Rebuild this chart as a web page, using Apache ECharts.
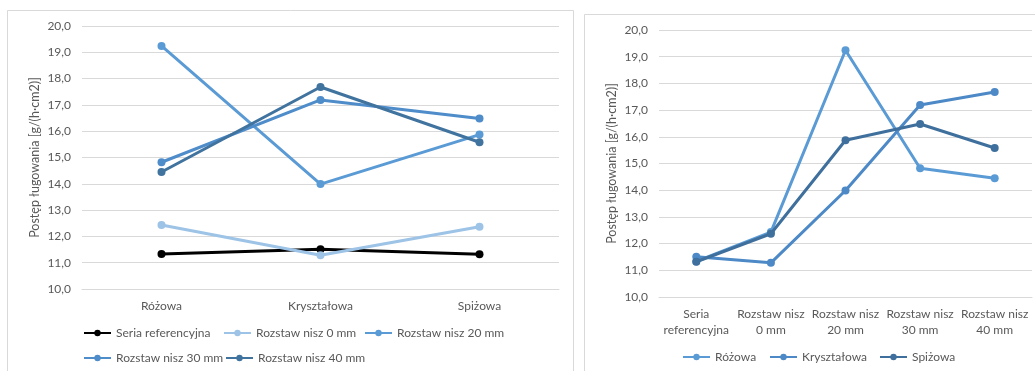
<!DOCTYPE html>
<html>
<head>
<meta charset="utf-8">
<script src="https://cdn.jsdelivr.net/npm/echarts@6/dist/echarts.min.js"></script>
<style>
html,body{margin:0;padding:0;background:#fff;}
#c{width:1035px;height:371px;}
</style>
</head>
<body>
<div id="c"></div>
<script>
// ---- data ----
const categories = ['Różowa', 'Kryształowa', 'Spiżowa'];
const seriesNames = ['Seria referencyjna', 'Rozstaw nisz 0 mm', 'Rozstaw nisz 20 mm', 'Rozstaw nisz 30 mm', 'Rozstaw nisz 40 mm'];
const seriaReferencyjna = [11.33, 11.51, 11.32];
const rozstaw0 = [12.43, 11.28, 12.37];
const rozstaw20 = [19.24, 13.99, 15.87];
const rozstaw30 = [14.82, 17.19, 16.48];
const rozstaw40 = [14.45, 17.68, 15.58];
const yMin = 10, yMax = 20, yStep = 1;
const yAxisTitle = 'Postęp ługowania [g/(h·cm2)]';

const leftValues = [seriaReferencyjna, rozstaw0, rozstaw20, rozstaw30, rozstaw40];
const leftColors = ['#000000', '#9DC3E6', '#5B9BD5', '#4E8CCA', '#41739F'];
const rightColors = ['#5B9BD5', '#4C89C6', '#3F709D'];

const txt = '#595959';
const font = 'Lato';
const fmt = v => v.toFixed(1).replace('.', ',');

function yAxis(idx) {
  return {
    type: 'value', gridIndex: idx, min: yMin, max: yMax, interval: yStep,
    name: yAxisTitle, nameLocation: 'middle', nameGap: 41, nameRotate: 90,
    nameTextStyle: { color: txt, fontFamily: font, fontSize: 12.5 },
    axisLine: { show: false }, axisTick: { show: false },
    axisLabel: { color: txt, fontFamily: font, fontSize: 12, margin: 11, formatter: fmt },
    splitLine: { lineStyle: { color: '#D9D9D9', width: 1 } }
  };
}

const series = [];
leftValues.forEach((vals, i) => {
  series.push({
    name: seriesNames[i], type: 'line', xAxisIndex: 0, yAxisIndex: 0, data: vals,
    symbol: 'circle', symbolSize: 8, lineStyle: { width: 3, color: leftColors[i] },
    itemStyle: { color: leftColors[i] }, z: 2 + i
  });
});
categories.forEach((cat, j) => {
  series.push({
    name: cat, type: 'line', xAxisIndex: 1, yAxisIndex: 1,
    data: leftValues.map(a => a[j]),
    symbol: 'circle', symbolSize: 8, lineStyle: { width: 3, color: rightColors[j] },
    itemStyle: { color: rightColors[j] }, z: 2 + j
  });
});

function legendAt(name, left, top) {
  return {
    data: [name], left: left, top: top, padding: 0, itemWidth: 27, itemHeight: 8,
    textStyle: { color: txt, fontFamily: font, fontSize: 12 }
  };
}
const legends = [
  legendAt(seriesNames[0], 83, 327),
  legendAt(seriesNames[1], 223, 327),
  legendAt(seriesNames[2], 364, 327),
  legendAt(seriesNames[3], 83, 352),
  legendAt(seriesNames[4], 225, 352),
  legendAt(categories[0], 682, 351),
  legendAt(categories[1], 769, 351),
  legendAt(categories[2], 879, 351)
];

const chart = echarts.init(document.getElementById('c'), null, { renderer: 'canvas' });
chart.setOption({
  animation: false,
  backgroundColor: '#fff',
  graphic: [
    { type: 'rect', shape: { x: 7.5, y: 10.5, width: 566, height: 400 }, style: { fill: 'none', stroke: '#D9D9D9', lineWidth: 1 }, silent: true },
    { type: 'rect', shape: { x: 584.5, y: 14.5, width: 500, height: 400 }, style: { fill: 'none', stroke: '#D9D9D9', lineWidth: 1 }, silent: true }
  ],
  grid: [
    { left: 82, top: 26, width: 477, height: 263 },
    { left: 659, top: 30, width: 373, height: 267 }
  ],
  xAxis: [
    {
      type: 'category', gridIndex: 0, data: categories, boundaryGap: true,
      axisLine: { lineStyle: { color: '#D9D9D9' } }, axisTick: { show: false },
      axisLabel: { color: txt, fontFamily: font, fontSize: 12, margin: 11, interval: 0 }
    },
    {
      type: 'category', gridIndex: 1, data: seriesNames, boundaryGap: true,
      axisLine: { lineStyle: { color: '#D9D9D9' } }, axisTick: { show: false },
      axisLabel: {
        color: txt, fontFamily: font, fontSize: 12, margin: 9, interval: 0, lineHeight: 16,
        formatter: v => v.replace(/^(Seria|Rozstaw nisz) /, '$1\n')
      }
    }
  ],
  yAxis: [yAxis(0), yAxis(1)],
  legend: legends,
  series: series
});
</script>
</body>
</html>
